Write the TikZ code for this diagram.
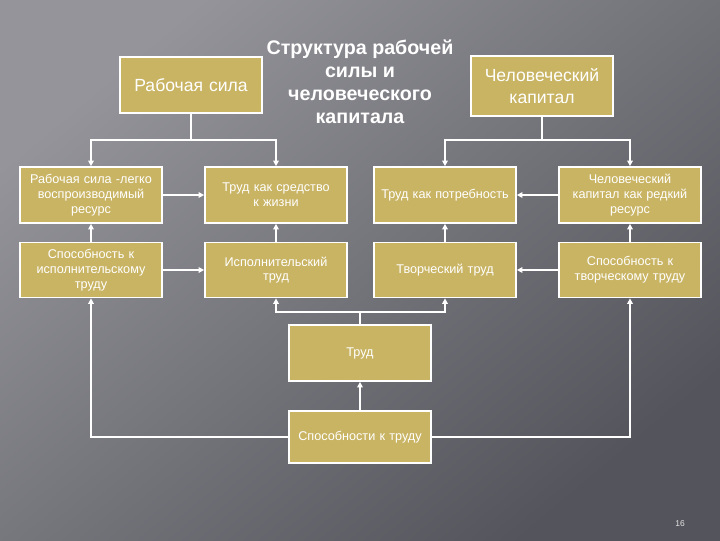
\documentclass[tikz,border=0pt]{standalone}
\usepackage{fontspec}
\setmainfont{Liberation Sans}
\usetikzlibrary{arrows.meta, positioning, calc, backgrounds}
\definecolor{bgdark}{RGB}{84,84,92}
\definecolor{bgmid}{RGB}{90,90,98}
\definecolor{bglight}{RGB}{148,148,154}
\definecolor{khaki}{RGB}{201,180,100}

\begin{document}
\begin{tikzpicture}[
  x=0.025cm, y=-0.025cm,
  font=\fontsize{9}{10.5}\selectfont,
  box/.style={draw=white, line width=1.2pt, fill=khaki, text=white, align=center,
              minimum width=3.55cm, minimum height=1.4cm, text width=3.3cm, inner sep=2pt},
  big/.style={box, font=\fontsize{12.5}{16}\selectfont},
  a/.style={-{Triangle[length=4pt, width=4pt]}, white, line width=1pt},
  ln/.style={white, line width=1pt}
]

% ---- background ----
\shade[left color=bglight, middle color=bgmid, right color=bgdark, shading angle=40]
  (0,0) rectangle (720,540);
\useasboundingbox (0,0) rectangle (720,540);

% ---- top ----
\node[text=white, align=center, font=\bfseries\fontsize{14}{16.3}\selectfont] (title) at (360,82)
  {Структура рабочей\\силы и\\человеческого\\капитала};
\node[big, minimum height=1.4cm] (rs) at (191,85) {Рабочая сила};
\node[big, minimum height=1.5cm] (hk) at (542,86) {Человеческий\\капитал};

% ---- row 1 ----
\node[box] (rsres) at (91,195) {Рабочая сила -легко\\воспроизводимый\\ресурс};
\node[box] (sredstvo) at (276,195) {Труд как средство\\к жизни};
\node[box] (potreb) at (445,195) {Труд как потребность};
\node[box] (hkres) at (630,195) {Человеческий\\капитал как редкий\\ресурс};

% ---- row 2 ----
\node[box, minimum height=1.375cm] (sposisp) at (91,270) {Способность к\\исполнительскому\\труду};
\node[box, minimum height=1.375cm] (isp) at (276,270) {Исполнительский\\труд};
\node[box, minimum height=1.375cm] (tvor) at (445,270) {Творческий труд};
\node[box, minimum height=1.375cm] (spostvor) at (630,270) {Способность к\\творческому труду};

% ---- bottom ----
\node[box] (trud) at (360,353) {Труд};
\node[box, minimum height=1.3cm] (sposob) at (360,437) {Способности к труду};

% ---- junctions ----
\coordinate (rsj) at (rs.south |- 0,140);
\coordinate (hkj) at (hk.south |- 0,140);
\coordinate (trj) at (trud.north |- 0,312);

% ---- tree arrows ----
\draw[ln] (rs.south) -- (rsj);
\draw[a] (rsj) -| (rsres.north);
\draw[a] (rsj) -| (sredstvo.north);
\draw[ln] (hk.south) -- (hkj);
\draw[a] (hkj) -| (potreb.north);
\draw[a] (hkj) -| (hkres.north);

% ---- sideways ----
\draw[a] (rsres) -- (sredstvo);
\draw[a] (hkres) -- (potreb);
\draw[a] (sposisp) -- (isp);
\draw[a] (spostvor) -- (tvor);

% ---- upwards ----
\draw[a] (sposisp) -- (rsres);
\draw[a] (isp) -- (sredstvo);
\draw[a] (tvor) -- (potreb);
\draw[a] (spostvor) -- (hkres);

% ---- from below ----
\draw[ln] (trud.north) -- (trj);
\draw[a] (trj) -| (isp.south);
\draw[a] (trj) -| (tvor.south);
\draw[a] (sposob) -- (trud);
\draw[a] (sposob.west) -| (sposisp.south);
\draw[a] (sposob.east) -| (spostvor.south);

\node[text=white!80!gray, font=\fontsize{6}{7}\selectfont] (page) at (680,524) {16};

\end{tikzpicture}
\end{document}
